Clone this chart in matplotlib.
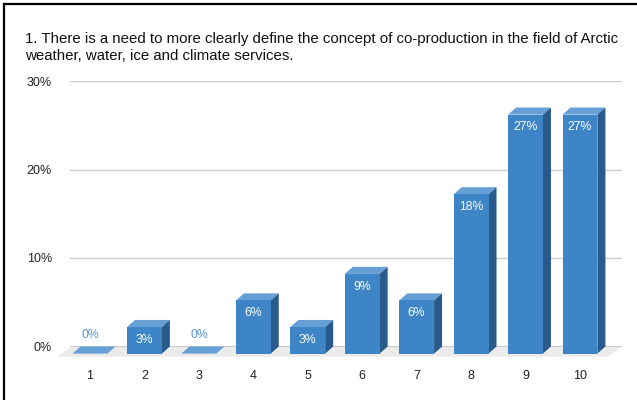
import matplotlib.pyplot as plt
from matplotlib.patches import Polygon
from matplotlib.lines import Line2D

plt.rcParams['font.family'] = ['Liberation Sans', 'DejaVu Sans']

title = ('1. There is a need to more clearly define the concept of co-production in the field of Arctic\n'
         'weather, water, ice and climate services.')
categories = ['1', '2', '3', '4', '5', '6', '7', '8', '9', '10']
shares = [0, 3, 0, 6, 3, 9, 6, 18, 27, 27]
y_ticks = [0, 10, 20, 30]

front_col = '#3d85c6'
top_col = '#659fd6'
side_col = '#285a8c'

# 3d look: bar width, depth in x units and depth in percent units
w = 0.64
dx = 0.147
dy = 0.8

fig = plt.figure(figsize=(6.37, 4.0), dpi=100)
ax = fig.add_axes([70 / 637, 53.5 / 400, 552 / 637, 265.5 / 400])
ax.set_xlim(1 - 20 / 54.4, 10 + 42 / 54.4)
ax.set_ylim(0, 30)

xs = list(range(1, len(categories) + 1))

# floor under the bars
x0, x1 = ax.get_xlim()
floor = Polygon([(x0 + 0.03, 0), (x1, 0), (x1 - 0.26, -1.15), (x0 - 0.23, -1.15)],
                closed=True, facecolor='#ebebeb', edgecolor='none', zorder=1, clip_on=False)
ax.add_patch(floor)

for y in y_ticks[1:]:
    ax.axhline(y, color='#cccccc', lw=1, zorder=0)
ax.axhline(0, color='#222222', lw=1, zorder=1.5)

ax.bar(xs, shares, width=w, bottom=-dy, color=front_col, zorder=3, clip_on=False)

for x, v in zip(xs, shares):
    l, r = x - w / 2, x + w / 2
    top = Polygon([(l, v - dy), (r, v - dy), (r + dx, v), (l + dx, v)], closed=True,
                  facecolor=top_col, edgecolor='none', zorder=2.5, clip_on=False)
    ax.add_patch(top)
    if v > 0:
        side = Polygon([(r, -dy), (r + dx, 0), (r + dx, v), (r, v - dy)], closed=True,
                       facecolor=side_col, edgecolor='none', zorder=2.5, clip_on=False)
        ax.add_patch(side)
        ax.text(x, v - dy - 1.45, f'{v}%', ha='center', va='center', color='white', fontsize=8.8, zorder=4)
    else:
        ax.text(x, 1.3, f'{v}%', ha='center', va='center', color='#5b95d3', fontsize=8.8, zorder=4)

ax.set_xticks(xs)
ax.set_xticklabels(categories)
ax.set_yticks(y_ticks)
ax.set_yticklabels([f'{t}%' for t in y_ticks])
ax.tick_params(axis='x', length=0, pad=17, labelsize=9, labelcolor='#222222')
ax.tick_params(axis='y', length=0, pad=13, labelsize=9, labelcolor='#222222')
for s in ax.spines.values():
    s.set_visible(False)

fig.text(25 / 637, 1 - 32 / 400, title, ha='left', va='top', fontsize=10.8, linespacing=1.3, color='#111111')

# border frame (top and left edges)
fig.add_artist(Line2D([4 / 637, 1], [1 - 4 / 400, 1 - 4 / 400], color='black', lw=1.6, transform=fig.transFigure))
fig.add_artist(Line2D([4 / 637, 4 / 637], [0, 1 - 4 / 400], color='black', lw=1.6, transform=fig.transFigure))

fig.savefig('out.png', dpi=100)
